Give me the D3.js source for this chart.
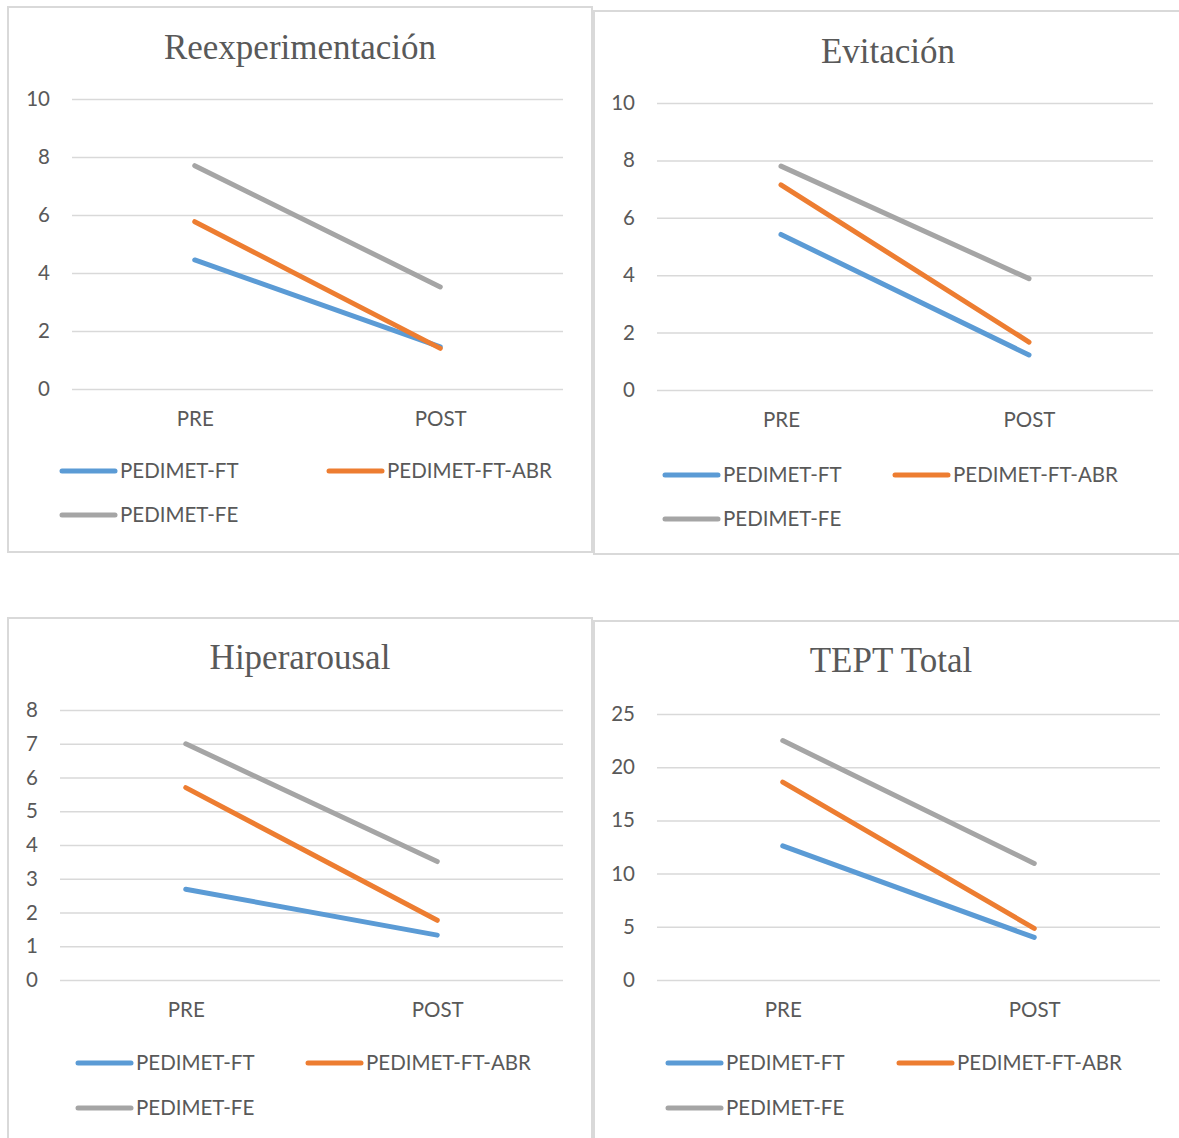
<!DOCTYPE html>
<html>
<head>
<meta charset="utf-8">
<script src="https://cdn.jsdelivr.net/npm/d3@7"></script>
<style>
  body { margin: 0; background: #fff; }
  svg { display: block; }
  text { fill: #595959; }
</style>
</head>
<body>
<svg id="chart" width="1179" height="1138"></svg>
<script>
// categories and series
const phases = ["PRE", "POST"];
const seriesNames = ["PEDIMET-FT", "PEDIMET-FT-ABR", "PEDIMET-FE"];
const seriesColors = ["#5B9BD5", "#ED7D31", "#A5A5A5"];

const titles = ["Reexperimentación", "Evitación", "Hiperarousal", "TEPT Total"];

// values per panel: [FT, FT-ABR, FE], each [PRE, POST]
const reexperimentacion = [[4.45, 1.45], [5.77, 1.4], [7.7, 3.52]];
const evitacion = [[5.42, 1.22], [7.15, 1.67], [7.8, 3.88]];
const hiperarousal = [[2.69, 1.33], [5.7, 1.77], [7.0, 3.51]];
const teptTotal = [[12.6, 4.0], [18.6, 4.85], [22.5, 10.95]];

const yMax = [10, 10, 8, 25];
const yStep = [2, 2, 1, 5];

const panelValues = [reexperimentacion, evitacion, hiperarousal, teptTotal];

// layout for each panel (pixels)
const layout = [
  { box: [8, 7, 584, 545], titleX: 300, title: 59, x0: 72, x1: 563, yTop: 99, yBot: 389, legY: [471, 515], legX: [62, 329] },
  { box: [594, 11, 600, 543], titleX: 888, title: 63, x0: 657, x1: 1153, yTop: 103, yBot: 390, legY: [475, 519], legX: [665, 895] },
  { box: [8, 618, 584, 540], titleX: 300, title: 669, x0: 60, x1: 563, yTop: 710, yBot: 980, legY: [1063, 1108], legX: [78, 308] },
  { box: [594, 621, 600, 540], titleX: 891, title: 672, x0: 657, x1: 1160, yTop: 714, yBot: 980, legY: [1063, 1108], legX: [668, 899] }
];

const svg = d3.select("#chart");
const sansFont = "Lato, 'Open Sans', sans-serif";

titles.forEach((title, i) => {
  const L = layout[i];
  const g = svg.append("g");

  // panel border
  g.append("rect")
    .attr("x", L.box[0]).attr("y", L.box[1])
    .attr("width", L.box[2]).attr("height", L.box[3])
    .attr("fill", "none")
    .attr("stroke", "#D9D9D9")
    .attr("stroke-width", 2);

  g.append("text")
    .attr("x", L.titleX)
    .attr("y", L.title)
    .attr("text-anchor", "middle")
    .style("font-family", "'Liberation Serif', serif")
    .style("font-size", "35px")
    .text(title);

  const x = d3.scalePoint().domain(phases).range([L.x0, L.x1]).padding(0.5);
  const y = d3.scaleLinear().domain([0, yMax[i]]).range([L.yBot, L.yTop]);
  const ticks = d3.range(0, yMax[i] + yStep[i] / 2, yStep[i]);

  // gridlines + y labels
  const yAxis = d3.axisLeft(y).tickValues(ticks).tickSize(-(L.x1 - L.x0)).tickPadding(22);
  const ya = g.append("g").attr("transform", `translate(${L.x0},0)`).call(yAxis);
  ya.select(".domain").remove();
  ya.selectAll("line").attr("stroke", "#D9D9D9").attr("stroke-width", 1.5);
  ya.selectAll("text")
    .style("font-family", sansFont).style("font-size", "20.5px")
    .attr("fill", "#595959");

  // x labels
  const xAxis = d3.axisBottom(x).tickSize(0).tickPadding(22);
  const xa = g.append("g").attr("transform", `translate(0,${L.yBot})`).call(xAxis);
  xa.select(".domain").remove();
  xa.selectAll("text")
    .style("font-family", sansFont).style("font-size", "20.5px")
    .attr("fill", "#595959");

  // series lines
  const line = d3.line().x((d, j) => x(phases[j])).y(d => y(d));
  g.selectAll("path.series")
    .data(panelValues[i])
    .enter()
    .append("path")
    .attr("class", "series")
    .attr("d", line)
    .attr("fill", "none")
    .attr("stroke", (d, k) => seriesColors[k])
    .attr("stroke-width", 5)
    .attr("stroke-linecap", "round");

  // legend
  seriesNames.forEach((name, k) => {
    const lx = L.legX[k === 1 ? 1 : 0];
    const ly = L.legY[k === 2 ? 1 : 0];
    g.append("line")
      .attr("x1", lx).attr("x2", lx + 53)
      .attr("y1", ly).attr("y2", ly)
      .attr("stroke", seriesColors[k])
      .attr("stroke-width", 5)
      .attr("stroke-linecap", "round");
    g.append("text")
      .attr("x", lx + 58).attr("y", ly)
      .attr("dy", "0.35em")
      .style("font-family", sansFont).style("font-size", "20.5px")
      .text(name);
  });
});
</script>
</body>
</html>
